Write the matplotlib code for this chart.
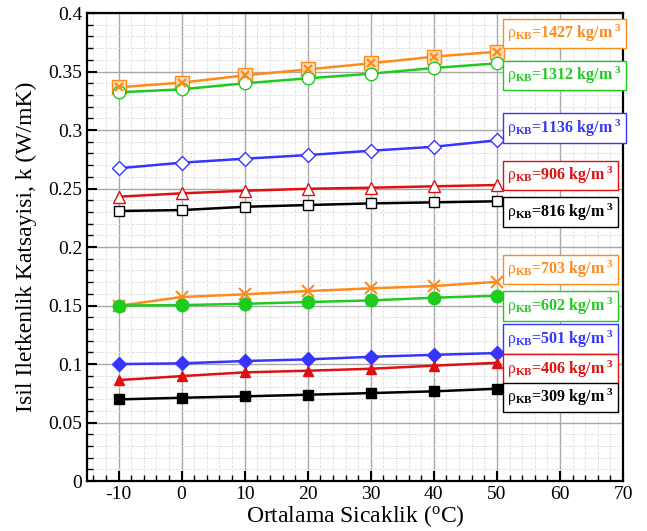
import numpy as np
import matplotlib
matplotlib.use("Agg")
from matplotlib import pyplot as plt
from matplotlib.ticker import MultipleLocator

plt.rcParams['font.family'] = ['Liberation Serif', 'DejaVu Serif']
plt.rcParams['mathtext.fontset'] = 'custom'
plt.rcParams['mathtext.rm'] = 'Liberation Serif'
plt.rcParams['mathtext.it'] = 'Liberation Serif:italic'
plt.rcParams['mathtext.bf'] = 'Liberation Serif:bold'
plt.rcParams['axes.unicode_minus'] = False

temps = [-10, 0, 10, 20, 30, 40, 50]

densities = [1427, 1312, 1136, 906, 816, 703, 602, 501, 406, 309]

k_1427 = [0.3365, 0.3405, 0.3467, 0.3518, 0.3570, 0.3627, 0.3669]
k_1312 = [0.3322, 0.3348, 0.3399, 0.3442, 0.3481, 0.3530, 0.3570]
k_1136 = [0.2673, 0.2721, 0.2755, 0.2786, 0.2823, 0.2857, 0.2912]
k_906 = [0.2430, 0.2459, 0.2481, 0.2498, 0.2507, 0.2519, 0.2530]
k_816 = [0.2308, 0.2316, 0.2344, 0.2359, 0.2373, 0.2382, 0.2391]
k_703 = [0.1498, 0.1573, 0.1596, 0.1624, 0.1647, 0.1667, 0.1703]
k_602 = [0.1500, 0.1504, 0.1515, 0.1530, 0.1544, 0.1567, 0.1584]
k_501 = [0.1000, 0.1006, 0.1026, 0.1040, 0.1062, 0.1079, 0.1094]
k_406 = [0.0863, 0.0897, 0.0929, 0.0943, 0.0960, 0.0986, 0.1011]
k_309 = [0.0698, 0.0712, 0.0724, 0.0738, 0.0752, 0.0767, 0.0789]

# where each density label box sits (y value of its centre)
label_y = [0.3827, 0.3467, 0.3017, 0.2611, 0.2299, 0.1809, 0.1496, 0.1213, 0.0959, 0.0714]

ORANGE = '#ff8a1c'
GREEN = '#1ecb1e'
BLUE = '#3535ff'
RED = '#e01010'
BLACK = '#000000'

series = [
    (k_1427, ORANGE, 's', '#ffd9b0', 10),
    (k_1312, GREEN, 'o', 'white', 9),
    (k_1136, BLUE, 'D', 'white', 7),
    (k_906, RED, '^', 'white', 8),
    (k_816, BLACK, 's', 'white', 7),
    (k_703, ORANGE, 'x', ORANGE, 8),
    (k_602, GREEN, 'o', GREEN, 9),
    (k_501, BLUE, 'D', BLUE, 7),
    (k_406, RED, '^', RED, 7),
    (k_309, BLACK, 's', BLACK, 7),
]

fig = plt.figure(figsize=(6.47, 5.31), dpi=100)
ax = fig.add_axes([0.1345, 0.094, 0.8285, 0.8815])

ax.set_xlim(-15, 70)
ax.set_ylim(0, 0.4)
ax.xaxis.set_major_locator(MultipleLocator(10))
ax.xaxis.set_minor_locator(MultipleLocator(2))
ax.yaxis.set_minor_locator(MultipleLocator(0.01))
ax.set_yticks(np.arange(0, 0.401, 0.05))
ax.set_yticklabels(['0', '0.05', '0.1', '0.15', '0.2', '0.25', '0.3', '0.35', '0.4'])

ax.grid(which='major', color='#a8a8a8', lw=1.0, zorder=0)
ax.grid(which='minor', color='#dedede', lw=0.6, ls='--', zorder=0)
ax.set_axisbelow(True)
ax.tick_params(which='both', direction='in', top=False, right=False, labelsize=14)
ax.tick_params(which='major', length=7, width=1.5)
ax.tick_params(which='minor', length=4, width=1)
for s in ax.spines.values():
    s.set_linewidth(1.6)

for k, col, mk, fc, ms in series:
    ax.plot(temps, k, color=col, lw=1.8, marker=mk, ms=ms, mfc=fc, mec=col,
            mew=1.0 if mk != 'x' else 1.5, zorder=3)
    if k is k_1427:
        ax.plot(temps, k, ls='none', marker='x', ms=6, mec=col, mew=1.6, zorder=4)

for dens, ly, (k, col, mk, fc, ms) in zip(densities, label_y, series):
    txt = r'$\mathrm{ρ}_{\mathbf{KB}}$=%d kg/m$^{\ \mathbf{3}}$' % dens
    ax.text(51.6, ly, txt, color=col, fontsize=11.5, fontweight='bold',
            ha='left', va='center',
            bbox=dict(boxstyle='square,pad=0.25', fc='white', ec=col, lw=1.0),
            zorder=5)

ax.set_xlabel(r'Ortalama Sicaklik ($^{\mathrm{o}}$C)', fontsize=17, labelpad=0)
ax.set_ylabel('Isil Iletkenlik Katsayisi, k (W/mK)', fontsize=17, labelpad=8)

fig.savefig('out.png', dpi=100)
